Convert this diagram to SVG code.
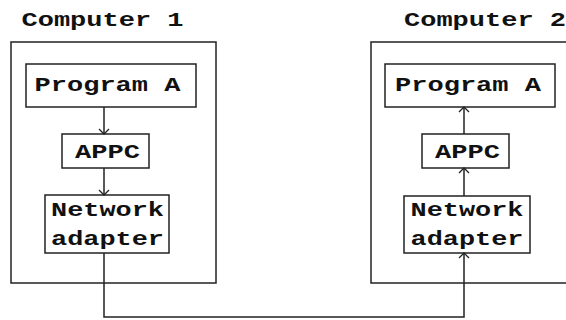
<svg xmlns="http://www.w3.org/2000/svg" width="566" height="320" viewBox="0 0 566 320">
<style>
  .box { fill: #ffffff; stroke: #222222; stroke-width: 1.5; }
  .frame { fill: none; stroke: #222222; stroke-width: 1.5; }
  .t { font-family: "Liberation Mono", "DejaVu Sans Mono", monospace; font-weight: bold; font-size: 21px; fill: #111111; text-anchor: middle; }
  .c { fill: none; stroke: #222222; stroke-width: 1.5; }
</style>
<defs>
  <marker id="arr" markerUnits="userSpaceOnUse" markerWidth="12" markerHeight="12" refX="11" refY="6" orient="auto" viewBox="0 0 12 12">
    <path d="M6,1 L11,6 L6,11" fill="none" stroke="#222222" stroke-width="1.3"/>
  </marker>
</defs>
<rect width="566" height="320" fill="#ffffff"/>

<g id="computer1">
  <text class="t" x="102.5" y="26" textLength="162" lengthAdjust="spacingAndGlyphs">Computer 1</text>
  <rect class="frame" x="11" y="42" width="205" height="241"/>
</g>
<g id="computer2">
  <text class="t" x="485" y="26" textLength="162" lengthAdjust="spacingAndGlyphs">Computer 2</text>
  <rect class="frame" x="371" y="42" width="205" height="241"/>
</g>

<g id="programA1">
  <rect class="box" x="26" y="64" width="170" height="43"/>
  <text class="t" x="107.5" y="91" textLength="146" lengthAdjust="spacingAndGlyphs">Program A</text>
</g>
<g id="appc1">
  <rect class="box" x="62" y="134" width="87" height="34"/>
  <text class="t" x="107.5" y="158" textLength="65" lengthAdjust="spacingAndGlyphs">APPC</text>
</g>
<g id="adapter1">
  <rect class="box" x="45" y="195" width="124" height="58"/>
  <text class="t" x="107.5" y="216" textLength="113" lengthAdjust="spacingAndGlyphs">Network</text>
  <text class="t" x="107.5" y="245" textLength="113" lengthAdjust="spacingAndGlyphs">adapter</text>
</g>

<g id="programA2">
  <rect class="box" x="385" y="64" width="170" height="43"/>
  <text class="t" x="468" y="91" textLength="146" lengthAdjust="spacingAndGlyphs">Program A</text>
</g>
<g id="appc2">
  <rect class="box" x="422" y="134" width="87" height="34"/>
  <text class="t" x="467.5" y="158" textLength="65" lengthAdjust="spacingAndGlyphs">APPC</text>
</g>
<g id="adapter2">
  <rect class="box" x="404" y="196" width="126" height="57"/>
  <text class="t" x="467" y="216" textLength="113" lengthAdjust="spacingAndGlyphs">Network</text>
  <text class="t" x="467" y="245" textLength="113" lengthAdjust="spacingAndGlyphs">adapter</text>
</g>

<g id="connectors">
  <path class="c" d="M104,107 L104,134" marker-end="url(#arr)"/>
  <path class="c" d="M104,168 L104,195" marker-end="url(#arr)"/>
  <path class="c" d="M464,134 L464,107" marker-end="url(#arr)"/>
  <path class="c" d="M464,196 L464,168" marker-end="url(#arr)"/>
  <path class="c" d="M104,253 L104,317 L464,317 L464,253" marker-end="url(#arr)"/>
</g>
</svg>
